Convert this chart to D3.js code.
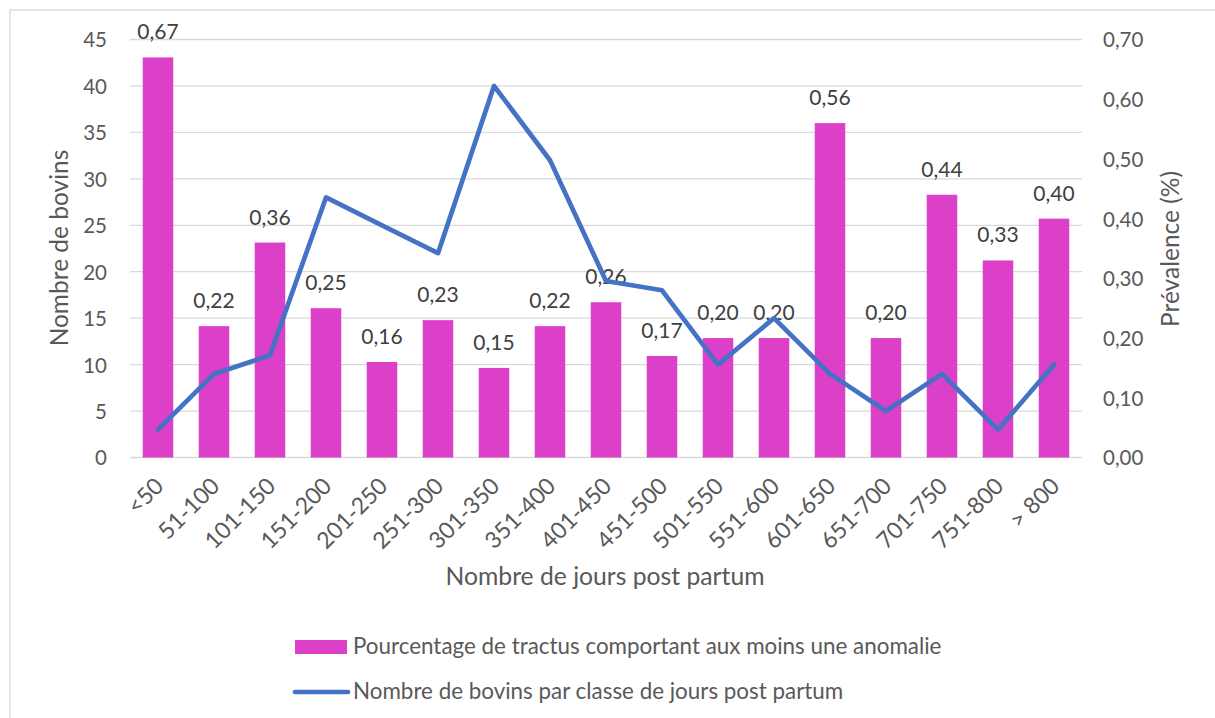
<!DOCTYPE html>
<html>
<head>
<meta charset="utf-8">
<script src="https://cdn.jsdelivr.net/npm/d3@7"></script>
<style>
  body { margin: 0; background: #fff; }
  text { font-family: Lato, "Open Sans", sans-serif; fill: #595959; }
</style>
</head>
<body>
<div id="chart"></div>
<script>
// classes of days post partum
let categories = ["<50", "51-100", "101-150", "151-200", "201-250", "251-300", "301-350",
    "351-400", "401-450", "451-500", "501-550", "551-600", "601-650", "651-700",
    "701-750", "751-800", "> 800"];

// prevalence (right axis, bars)
let prevalence = [0.67, 0.22, 0.36, 0.25, 0.16, 0.23, 0.15, 0.22, 0.26, 0.17,
    0.20, 0.20, 0.56, 0.20, 0.44, 0.33, 0.40];

// number of cows (left axis, line)
let bovins = [3, 9, 11, 28, 25, 22, 40, 32, 19, 18, 10, 15, 9, 5, 9, 3, 10];

let leftTicks = [0, 5, 10, 15, 20, 25, 30, 35, 40, 45];
let rightTicks = [0, 0.1, 0.2, 0.3, 0.4, 0.5, 0.6, 0.7];

let barLabel = "Pourcentage de tractus comportant aux moins une anomalie";
let lineLabel = "Nombre de bovins par classe de jours post partum";

let width = 1215, height = 718;
let plot = { left: 130, right: 1082, top: 39.5, bottom: 457.5 };
let barColor = "#dc40c8", lineColor = "#4472c4";

let fr = d3.formatLocale({ decimal: ",", thousands: " ", grouping: [3], currency: ["", "€"] });
let fmt = fr.format(".2f");

let svg = d3.select("#chart").append("svg")
    .attr("width", width)
    .attr("height", height);

// chart border
svg.append("rect")
    .attr("x", 10).attr("y", 10)
    .attr("width", width).attr("height", height)
    .attr("fill", "none")
    .attr("stroke", "#d9d9d9")
    .attr("stroke-width", 1.3);

let x = d3.scaleBand().domain(categories)
    .range([plot.left, plot.right])
    .paddingInner(0.455).paddingOuter(0.2275);
let yL = d3.scaleLinear().domain([0, 45]).range([plot.bottom, plot.top]);
let yR = d3.scaleLinear().domain([0, 0.7]).range([plot.bottom, plot.top]);

// gridlines
svg.append("g").selectAll("line")
    .data(leftTicks)
    .join("line")
    .attr("x1", plot.left).attr("x2", plot.right)
    .attr("y1", d => yL(d)).attr("y2", d => yL(d))
    .attr("stroke", "#d9d9d9")
    .attr("stroke-width", 1.3);

// left axis
let axisL = svg.append("g")
    .attr("transform", "translate(" + plot.left + ",0)")
    .call(d3.axisLeft(yL).tickValues(leftTicks).tickSize(0).tickPadding(23));
axisL.select(".domain").remove();
axisL.selectAll("text").style("font-size", "20.5px").attr("fill", "#595959").attr("dy", "0.36em");

// right axis
let axisR = svg.append("g")
    .attr("transform", "translate(" + plot.right + ",0)")
    .call(d3.axisRight(yR).tickValues(rightTicks).tickFormat(fmt).tickSize(0).tickPadding(21));
axisR.select(".domain").remove();
axisR.selectAll("text").style("font-size", "20.5px").attr("fill", "#595959").attr("dy", "0.36em");

// bars
svg.append("g").selectAll("rect")
    .data(prevalence)
    .join("rect")
    .attr("x", (d, i) => x(categories[i]))
    .attr("width", x.bandwidth())
    .attr("y", d => yR(d))
    .attr("height", d => yR(0) - yR(d))
    .attr("fill", barColor);

// bar labels
svg.append("g").selectAll("text")
    .data(prevalence)
    .join("text")
    .attr("x", (d, i) => x(categories[i]) + x.bandwidth() / 2)
    .attr("y", d => yR(d) - 18)
    .attr("text-anchor", "middle")
    .style("font-size", "21px")
    .style("fill", "#404040")
    .text(d => fmt(d));

// line
let line = d3.line()
    .x((d, i) => x(categories[i]) + x.bandwidth() / 2)
    .y(d => yL(d));

svg.append("path")
    .datum(bovins)
    .attr("d", line)
    .attr("fill", "none")
    .attr("stroke", lineColor)
    .attr("stroke-width", 4.7)
    .attr("stroke-linejoin", "round")
    .attr("stroke-linecap", "round");

// x tick labels
svg.append("g").selectAll("text")
    .data(categories)
    .join("text")
    .attr("transform", d => "translate(" + (x(d) + x.bandwidth() / 2 + 7) + "," + (plot.bottom + 30) + ") rotate(-45)")
    .attr("text-anchor", "end")
    .style("font-size", "23px")
    .text(d => d);

// axis titles
svg.append("text")
    .attr("x", 605).attr("y", 585)
    .attr("text-anchor", "middle")
    .style("font-size", "24.7px")
    .text("Nombre de jours post partum");

svg.append("text")
    .attr("transform", "translate(68,248) rotate(-90)")
    .attr("text-anchor", "middle")
    .style("font-size", "24.5px")
    .text("Nombre de bovins");

svg.append("text")
    .attr("transform", "translate(1179,249) rotate(-90)")
    .attr("text-anchor", "middle")
    .style("font-size", "24.5px")
    .text("Prévalence (%)");

// legend
let legend = svg.append("g");
legend.append("rect")
    .attr("x", 295).attr("y", 640)
    .attr("width", 52).attr("height", 14)
    .attr("fill", barColor);
legend.append("text")
    .attr("x", 353).attr("y", 654)
    .style("font-size", "22.4px")
    .text(barLabel);

legend.append("line")
    .attr("x1", 295).attr("x2", 348)
    .attr("y1", 692).attr("y2", 692)
    .attr("stroke", lineColor)
    .attr("stroke-width", 4.7)
    .attr("stroke-linecap", "round");
legend.append("text")
    .attr("x", 353).attr("y", 699)
    .style("font-size", "22.4px")
    .text(lineLabel);
</script>
</body>
</html>
